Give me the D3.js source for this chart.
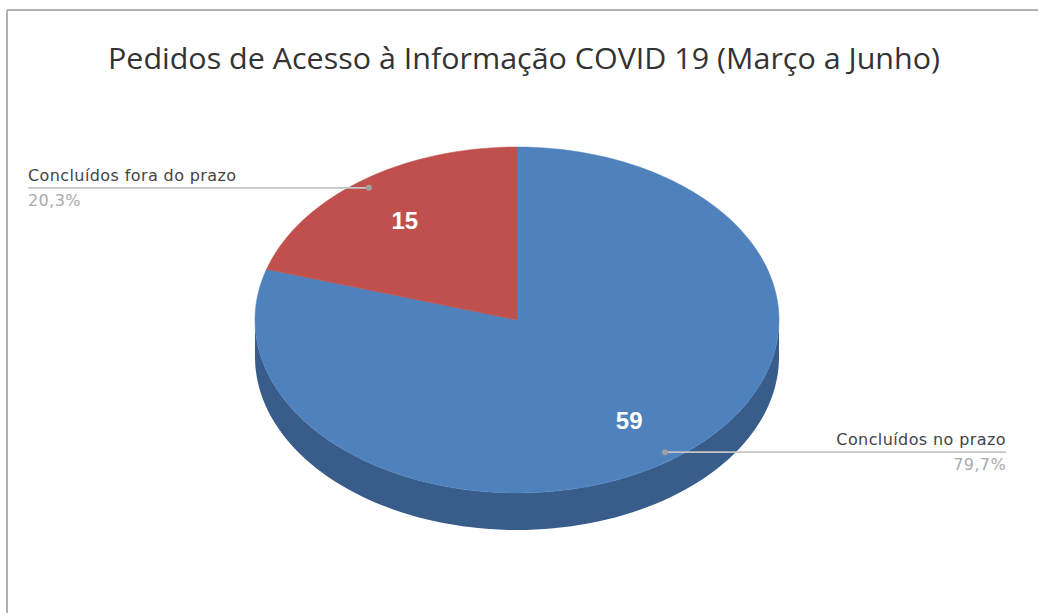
<!DOCTYPE html>
<html>
<head>
<meta charset="utf-8">
<script src="https://cdn.jsdelivr.net/npm/d3@7"></script>
<style>
  body { margin: 0; background: #fff; }
  svg { display: block; }
</style>
</head>
<body>
<div id="chart"></div>
<script>
// chart data
const categories = ["Concluídos no prazo", "Concluídos fora do prazo"];
const values = [59, 15];
const percentLabels = ["79,7%", "20,3%"];
const colors = ["#4f81bd", "#c0504d"];
const sideColors = ["#385d8a", "#8c3836"];
const title = "Pedidos de Acesso à Informação COVID 19 (Março a Junho)";

const width = 1038, height = 613;

const svg = d3
  .select("#chart")
  .append("svg")
  .attr("width", width)
  .attr("height", height);

// frame (screenshot border)
svg.append("line").attr("x1", 7).attr("x2", width).attr("y1", 10).attr("y2", 10)
  .attr("stroke", "#b0b0b0").attr("stroke-width", 2);
svg.append("line").attr("x1", 7).attr("x2", 7).attr("y1", 10).attr("y2", height)
  .attr("stroke", "#b0b0b0").attr("stroke-width", 2);

// title
svg.append("text")
  .attr("x", 524)
  .attr("y", 69)
  .attr("text-anchor", "middle")
  .attr("textLength", 832)
  .attr("lengthAdjust", "spacingAndGlyphs")
  .style("font-family", "'Open Sans', sans-serif")
  .style("font-size", "30px")
  .style("fill", "#333")
  .text(title);

// 3D pie geometry
const cx = 517, cy = 320, rx = 262, ry = 173, depth = 37;

const pie = d3.pie().sort(null).value((d) => d);
const arcs = pie(values);

function pt(a, r = 1, dy = 0) {
  return [cx + rx * r * Math.sin(a), cy - ry * r * Math.cos(a) + dy];
}

function arcPoints(a0, a1, r, dy) {
  const n = Math.max(2, Math.ceil(((a1 - a0) / Math.PI) * 90));
  return d3.range(n + 1).map((i) => pt(a0 + ((a1 - a0) * i) / n, r, dy));
}

const line = d3.line();

// side walls (front facing part only)
arcs.forEach((d, i) => {
  const a0 = Math.max(d.startAngle, Math.PI / 2);
  const a1 = Math.min(d.endAngle, (3 * Math.PI) / 2);
  if (a1 <= a0) return;
  const top = arcPoints(a0, a1, 1, 0);
  const bottom = arcPoints(a0, a1, 1, depth).reverse();
  svg.append("path")
    .attr("d", line(top.concat(bottom)) + "Z")
    .attr("fill", sideColors[i]);
});

// top surfaces
arcs.forEach((d, i) => {
  const pts = [[cx, cy]].concat(arcPoints(d.startAngle, d.endAngle, 1, 0));
  svg.append("path")
    .attr("d", line(pts) + "Z")
    .attr("fill", colors[i])
    .attr("stroke", colors[i])
    .attr("stroke-width", 0.5);
});

// value labels inside slices
arcs.forEach((d) => {
  const mid = (d.startAngle + d.endAngle) / 2;
  const p = pt(mid, 0.72);
  svg.append("text")
    .attr("x", p[0])
    .attr("y", p[1] + 9)
    .attr("text-anchor", "middle")
    .style("font-family", "'Liberation Sans', Arial, sans-serif")
    .style("font-weight", "bold")
    .style("font-size", "24px")
    .style("fill", "#fff")
    .text(d.data);
});

// leader lines and outside labels
const labelEnds = [1006, 28];
arcs.forEach((d, i) => {
  const mid = (d.startAngle + d.endAngle) / 2;
  const p = pt(mid, 0.95);
  const right = Math.sin(mid) > 0;
  const xEnd = labelEnds[i];
  svg.append("line")
    .attr("x1", p[0]).attr("y1", p[1])
    .attr("x2", xEnd).attr("y2", p[1])
    .attr("stroke", "#c4c4c4")
    .attr("stroke-width", 1.6);
  svg.append("circle")
    .attr("cx", p[0]).attr("cy", p[1])
    .attr("r", 3)
    .attr("fill", "#a0a0a0");
  svg.append("text")
    .attr("x", xEnd)
    .attr("y", p[1] - 7)
    .attr("text-anchor", right ? "end" : "start")
    .style("font-family", "'DejaVu Sans', sans-serif")
    .style("font-size", "16px")
    .style("letter-spacing", "0.4px")
    .style("fill", "#444")
    .text(categories[i]);
  svg.append("text")
    .attr("x", xEnd)
    .attr("y", p[1] + 18)
    .attr("text-anchor", right ? "end" : "start")
    .style("font-family", "'DejaVu Sans', sans-serif")
    .style("font-size", "16px")
    .style("letter-spacing", "0.4px")
    .style("fill", "#aaa")
    .text(percentLabels[i]);
});
</script>
</body>
</html>
